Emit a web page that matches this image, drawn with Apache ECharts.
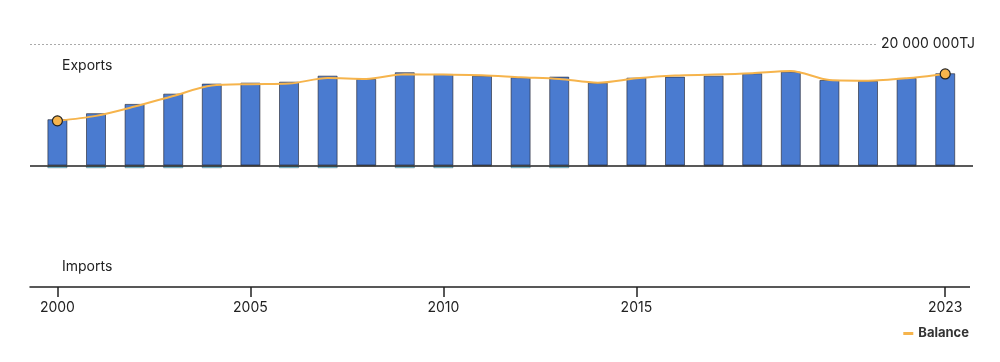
<!DOCTYPE html>
<html>
<head>
<meta charset="utf-8">
<script src="https://cdn.jsdelivr.net/npm/echarts@6/dist/echarts.min.js"></script>
<style>
html,body{margin:0;padding:0;background:#fff;}
#chart{width:1000px;height:362px;}
</style>
</head>
<body>
<div id="chart"></div>
<script>
var years = [2000,2001,2002,2003,2004,2005,2006,2007,2008,2009,2010,2011,2012,2013,2014,2015,2016,2017,2018,2019,2020,2021,2022,2023];
var exportsTJ = [7.62,8.61,10.14,11.83,13.48,13.64,13.80,14.79,14.25,15.35,15.07,14.79,14.53,14.63,13.64,14.46,14.63,14.79,15.19,15.45,14.08,13.92,14.41,15.19];
var importsTJ = [-0.45,-0.45,-0.45,-0.45,-0.45,-0.1,-0.45,-0.45,-0.1,-0.45,-0.45,-0.1,-0.45,-0.45,-0.1,-0.1,-0.1,-0.1,-0.1,-0.1,-0.1,-0.1,-0.1,-0.1];
var balanceTJ = [7.35,8.17,9.70,11.45,13.15,13.38,13.48,14.41,14.25,15.02,14.96,14.86,14.53,14.25,13.64,14.36,14.82,14.96,15.19,15.56,14.08,13.97,14.36,15.07];
var tickYears = [2000,2005,2010,2015,2023];
var MIL = 1000000;

var font = 'Inter, "Noto Sans", sans-serif';
var chart = echarts.init(document.getElementById('chart'), null, {renderer:'canvas'});

function pairs(arr){ return years.map(function(y,i){ return [y, arr[i]*MIL]; }); }
var balData = pairs(balanceTJ).map(function(p,i){
  if (i === 0 || i === years.length-1) {
    return {value:p, symbol:'circle', symbolSize:10};
  }
  return {value:p, symbol:'none'};
});

chart.setOption({
  animation:false,
  textStyle:{fontFamily:font},
  grid:{left:30, right:27, top:44, bottom:75, containLabel:false},
  legend:{
    data:[{name:'Balance', itemStyle:{color:'#f6b44c', borderWidth:0}}],
    right:26, top:322, icon:'rect', itemWidth:10, itemHeight:3, itemGap:6,
    textStyle:{fontFamily:font, fontSize:13, fontWeight:'bold', color:'#333'}
  },
  graphic:[
    {type:'text', left:62, top:59, style:{text:'Exports', font:'14px '+font, fill:'#222'}},
    {type:'text', left:62, top:260, style:{text:'Imports', font:'14px '+font, fill:'#222'}}
  ],
  xAxis:{
    type:'value', min:1999.29, max:2023.72,
    axisLine:{show:true, onZero:false, lineStyle:{color:'#222', width:1.5}},
    axisTick:{show:true, length:10, lineStyle:{color:'#222', width:1.5}, customValues:tickYears},
    axisLabel:{show:true, margin:14, fontSize:14, color:'#222', fontFamily:font, customValues:tickYears,
      formatter:function(v){return String(Math.round(v));}},
    splitLine:{show:false}
  },
  yAxis:{
    type:'value', position:'right', min:-20*MIL, max:20*MIL, interval:20*MIL,
    axisLine:{show:false}, axisTick:{show:false},
    axisLabel:{inside:true, margin:-2, fontSize:14, color:'#222', fontFamily:font,
      backgroundColor:'#fff', padding:[2,0,2,5],
      formatter:function(v){ return v === 20*MIL ? '20 000 000TJ' : ''; }},
    splitLine:{show:true, lineStyle:{type:[2,2], width:1, color:['rgba(0,0,0,0)','rgba(0,0,0,0)','#aaa']}}
  },
  series:[
    {
      name:'Exports', type:'bar', data:pairs(exportsTJ), barWidth:20, barGap:'-100%',
      itemStyle:{color:'#4a7bd0', borderColor:'rgba(30,30,40,0.6)', borderWidth:1},
      markLine:{silent:true, symbol:'none', label:{show:false},
        lineStyle:{color:'#222', width:1.5, type:'solid'}, data:[{yAxis:0}]},
      z:2
    },
    {
      name:'Imports', type:'bar', data:pairs(importsTJ), barWidth:20, barGap:'-100%',
      itemStyle:{color:'#7fd4ea', borderColor:'rgba(30,30,40,0.4)', borderWidth:0.8},
      z:2
    },
    {
      name:'Balance', type:'line', data:balData, smooth:0.3, showSymbol:true,
      lineStyle:{color:'#f6b44c', width:2},
      itemStyle:{color:'#f6b44c', borderColor:'#222', borderWidth:1.2},
      z:5
    }
  ]
});
</script>
</body>
</html>
